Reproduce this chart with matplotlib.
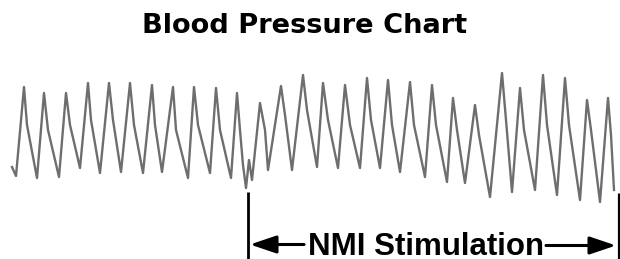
import matplotlib
matplotlib.use("Agg")
import matplotlib.pyplot as plt

# waveform: time (px) and trace height (px from top)
t = [12, 16, 24, 27, 37, 44, 48, 59, 66, 70, 80, 88, 91, 100, 109, 113, 121,
     130, 134, 143, 152, 155, 162, 173, 176, 188, 194, 198, 210, 216, 220, 231,
     237, 240, 243, 246, 249, 252, 260, 265, 268, 281, 285, 292, 303, 307, 317,
     323, 328, 338, 345, 350, 360, 367, 371, 380, 388, 392, 400, 410, 414, 425,
     432, 436, 447, 453, 457, 465, 475, 479, 490, 502, 506, 512, 520, 524, 535,
     543, 547, 557, 565, 569, 580, 587, 591, 600, 608, 611, 614]
bp = [167, 176, 87, 125, 178, 93, 130, 177, 93, 125, 168, 83, 120, 173, 83, 120, 172,
      83, 125, 173, 85, 125, 172, 87, 130, 178, 87, 125, 173, 88, 130, 178,
      93, 130, 165, 188, 160, 180, 103, 130, 170, 86, 115, 170, 75, 110, 167,
      83, 120, 168, 85, 125, 168, 78, 120, 168, 80, 125, 172, 82, 125, 177,
      85, 125, 182, 98, 130, 183, 105, 135, 197, 73, 120, 192, 88, 130, 190,
      75, 125, 195, 78, 125, 200, 100, 130, 202, 98, 135, 190]

title = "Blood Pressure Chart"
stim_label = "NMI Stimulation"
stim_start = 248
stim_end = 618.5

fig = plt.figure(figsize=(6.2, 2.59), dpi=100)
ax = fig.add_axes([0, 0, 1, 1])
ax.set_xlim(0, 620)
ax.set_ylim(259, 0)
ax.axis("off")

ax.plot(t, bp, color="#6e6e6e", lw=1.7, solid_joinstyle="round")

ax.text(304.5, 33, title, ha="center", va="baseline", fontsize=19.6,
        fontweight="bold", family="DejaVu Sans")

# stimulation bracket
ax.plot([stim_start, stim_start], [192, 262], color="black", lw=2.0, solid_capstyle="butt")
ax.plot([stim_end, stim_end], [193, 262], color="black", lw=2.3, solid_capstyle="butt")
ax.text(426, 255, stim_label, ha="center", va="baseline", fontsize=22.5,
        fontweight="bold", family="Liberation Sans")
arrow = dict(arrowstyle="-|>,head_length=0.8,head_width=0.27", color="black",
             lw=2.2, mutation_scale=20, shrinkA=0, shrinkB=0)
ax.annotate("", xy=(stim_start + 2, 244.5), xytext=(304, 244.5), arrowprops=arrow)
ax.annotate("", xy=(stim_end - 2.5, 245.5), xytext=(546, 245.5), arrowprops=arrow)

fig.savefig("out.png", dpi=100)
